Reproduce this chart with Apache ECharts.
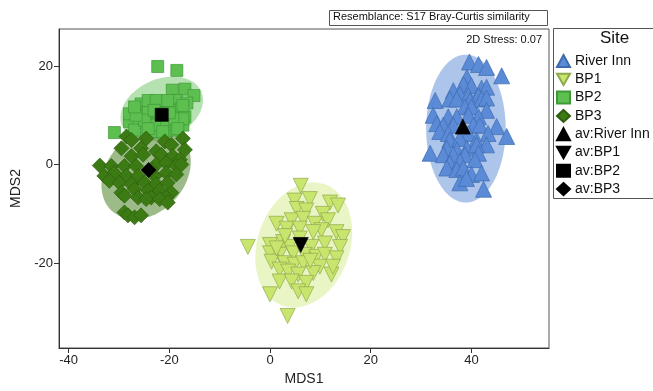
<!DOCTYPE html>
<html>
<head>
<meta charset="utf-8">
<script src="https://cdn.jsdelivr.net/npm/echarts@6/dist/echarts.min.js"></script>
<style>
html,body{margin:0;padding:0;background:#fff;}
#chart{width:653px;height:391px;}
</style>
</head>
<body>
<div id="chart"></div>
<script>
// MDS ordination, S17 Bray-Curtis similarity

const xTicks=[-40,-20,0,20,40];
const yTicks=[-20,0,20];

const riverInn=[
[39.6,20.8],[41.4,20.3],[43.0,19.7],[46.0,18.0],[39.1,17.7],[38.4,16.3],[40.0,16.0],
[42.0,15.5],[43.0,15.7],[36.4,15.0],[37.7,14.3],[39.4,14.0],[41.4,14.0],[32.8,13.0],
[35.7,13.3],[37.1,13.3],[39.7,13.0],[42.0,13.3],[43.0,13.5],[43.0,11.0],[38.7,11.7],
[40.0,11.7],[32.4,10.0],[35.4,9.7],[37.1,9.7],[41.4,9.7],[39.4,10.0],[33.1,8.3],
[34.4,8.0],[36.4,8.0],[40.4,8.0],[41.7,8.0],[45.0,7.7],[33.7,6.7],[35.4,6.3],
[39.4,6.3],[43.3,6.3],[47.0,5.7],[35.7,5.0],[37.7,5.3],[41.0,5.0],[43.0,4.0],
[35.1,3.3],[37.1,3.0],[39.1,3.3],[41.0,4.0],[31.8,2.3],[34.4,2.0],[36.4,2.0],
[38.7,2.0],[41.4,2.3],[40.7,1.0],[35.7,0.3],[37.7,0.7],[35.1,-0.7],[37.1,-1.0],
[38.4,-0.7],[40.0,-2.0],[42.0,-1.7],[37.7,-3.7],[42.4,-5.0],[39.0,-2.8]
];

const bp1=[
[6.1,-4.3],[4.9,-7.3],[7.9,-7.0],[11.9,-7.7],[13.5,-8.3],[5.3,-9.0],[7.2,-9.3],
[10.5,-10.0],[1.3,-12.0],[4.3,-11.3],[6.6,-11.0],[8.9,-12.0],[11.5,-11.3],[3.3,-13.0],
[5.9,-13.0],[10.2,-13.3],[13.2,-13.7],[14.5,-14.7],[-4.4,-16.7],[0.0,-16.3],[2.6,-15.7],
[3.9,-16.7],[8.2,-16.7],[10.9,-16.0],[13.9,-16.7],[0.0,-18.0],[1.9,-18.3],[4.6,-18.0],
[6.9,-18.3],[9.2,-18.7],[10.9,-18.3],[13.2,-19.0],[0.3,-19.7],[2.9,-20.0],[4.9,-20.3],
[6.6,-20.0],[9.9,-20.7],[12.2,-22.3],[1.9,-21.3],[3.6,-21.7],[5.6,-22.3],[8.6,-22.0],
[1.9,-23.7],[4.3,-23.7],[7.2,-24.0],[5.6,-25.7],[7.2,-26.3],[0.0,-26.3],[3.5,-30.7],
[8.6,-13.7],[5.9,-15.0],[1.3,-17.0],[12.5,-20.7],[8.0,-19.5],[3.0,-14.5]
];

const bp2=[
[-22.3,19.9],[-18.5,19.1],[-19.4,15.1],[-16.9,15.3],[-15.1,14.0],[-25.6,12.3],
[-23.4,12.5],[-20.9,12.7],[-18.6,13.0],[-16.5,12.5],[-26.0,10.3],[-24.2,10.7],
[-19.6,11.0],[-17.6,11.3],[-16.9,9.7],[-27.9,8.7],[-26.0,8.7],[-24.9,8.3],
[-22.7,8.2],[-21.1,8.0],[-18.9,9.0],[-17.3,8.0],[-26.9,7.0],[-30.9,6.5],
[-22.6,6.7],[-20.6,6.9],[-18.6,7.0],[-27.9,10.3],[-24.2,13.0],[-22.6,13.0],
[-20.3,13.0],[-17.3,12.0],[-17.3,9.3],[-19.3,9.3],[-21.3,8.0],[-22.9,8.0],
[-24.9,9.0],[-26.6,10.0],[-26.9,11.7],[-21.3,6.7],[-18.3,7.3],[-24.2,7.3],
[-20.0,10.5],[-23.0,11.0]
];

const bp3=[
[-28.5,5.7],[-24.6,5.3],[-20.9,4.7],[-17.3,5.3],[-29.5,3.3],[-25.6,3.3],[-22.6,2.7],
[-19.6,4.0],[-16.9,3.0],[-27.5,1.7],[-25.2,2.0],[-21.6,2.0],[-19.3,1.7],[-17.9,1.0],
[-33.8,-0.2],[-31.5,-0.3],[-28.9,-0.3],[-26.6,-0.3],[-22.6,0.0],[-20.6,0.3],[-18.6,-0.3],
[-32.9,-2.3],[-30.9,-1.7],[-28.5,-2.3],[-26.2,-2.3],[-22.9,-2.3],[-20.6,-1.7],[-18.6,-2.0],
[-31.9,-3.3],[-29.9,-3.7],[-27.5,-4.0],[-24.9,-3.7],[-22.6,-4.0],[-20.3,-3.7],[-29.5,-5.7],
[-26.9,-5.0],[-24.2,-5.3],[-21.9,-5.3],[-19.6,-5.7],[-28.9,-6.3],[-26.2,-6.7],[-23.6,-6.7],
[-20.6,-6.7],[-24.6,-7.0],[-21.9,-7.0],[-20.3,-7.7],[-28.9,-9.7],[-28.2,-10.3],[-26.9,-10.7],
[-25.6,-10.3],[-17.6,0.0],[-23.6,-1.0],[-27.5,5.0]
];

// group averages
const avRiverInn=[[38.3,7.7]];
const avBp1=[[6.1,-16.3]];
const avBp2=[[-21.5,10.1]];
const avBp3=[[-24.1,-1.1]];

// ellipses: [centre x, centre y, semi-axis along angle, other semi-axis, angle deg]
const ellipseParams=[
[38.9,7.3,7.9,15.0,0],
[6.7,-16.3,13.0,9.2,72],
[-21.5,11.3,8.6,6.0,25],
[-24.6,-1.8,10.2,7.8,50]
];
const ellipseFills=[
"rgba(91,139,214,0.5)",
"rgba(200,230,110,0.4)",
"rgba(90,190,80,0.45)",
"rgba(60,120,20,0.5)"
];

const downTri="path://M0,0L10,0L5,8.66Z";
const font="Liberation Sans, Arial, sans-serif";

const chart=echarts.init(document.getElementById("chart"));

function ellipseItem(params,api){
    const cx=api.value(0),cy=api.value(1),a=api.value(2),b=api.value(3);
    const ang=api.value(4)*Math.PI/180;
    const pts=[];
    for(let k=0;k<90;k++){
        const t=2*Math.PI*k/90;
        const dx=a*Math.cos(t),dy=b*Math.sin(t);
        pts.push(api.coord([
            cx+dx*Math.cos(ang)-dy*Math.sin(ang),
            cy+dx*Math.sin(ang)+dy*Math.cos(ang)
        ]));
    }
    return {
        type:"polygon",
        shape:{points:pts},
        style:{fill:ellipseFills[params.dataIndex],stroke:null}
    };
}

function group(name,data,symbol,size,fill,edge){
    return {
        name:name,
        type:"scatter",
        data:data,
        symbol:symbol,
        symbolSize:size,
        itemStyle:{color:fill,borderColor:edge,borderWidth:0.7,opacity:1},
        z:3
    };
}

chart.setOption({
    animation:false,
    textStyle:{fontFamily:font},
    grid:{
        left:59,top:29,right:104,bottom:38,
        show:true,borderColor:"#555",borderWidth:1,backgroundColor:"#fff"
    },
    xAxis:{
        type:"value",min:-41.9,max:55.4,
        name:"MDS1",nameLocation:"middle",nameGap:24,
        nameTextStyle:{fontSize:14,color:"#222",fontFamily:font},
        axisLine:{show:true,onZero:false,lineStyle:{color:"#333"}},
        axisTick:{show:true,length:5,customValues:xTicks,lineStyle:{color:"#333"}},
        axisLabel:{customValues:xTicks,fontSize:13,color:"#222",margin:6,fontFamily:font},
        splitLine:{show:false}
    },
    yAxis:{
        type:"value",min:-37.2,max:27.5,
        name:"MDS2",nameLocation:"middle",nameGap:36,
        nameTextStyle:{fontSize:14,color:"#222",fontFamily:font},
        axisLine:{show:true,onZero:false,lineStyle:{color:"#333"}},
        axisTick:{show:true,length:5,customValues:yTicks,lineStyle:{color:"#333"}},
        axisLabel:{customValues:yTicks,fontSize:13,color:"#222",margin:6,fontFamily:font},
        splitLine:{show:false}
    },
    legend:{
        orient:"vertical",left:556,top:54,padding:0,
        itemWidth:13,itemHeight:12,itemGap:4.3,
        textStyle:{fontSize:14,lineHeight:14,color:"#111",fontFamily:font},
        data:["River Inn","BP1","BP2","BP3","av:River Inn","av:BP1","av:BP2","av:BP3"]
    },
    graphic:[
        {type:"rect",left:329,top:10,z:10,
         shape:{width:218,height:15},style:{fill:"#fff",stroke:"#555",lineWidth:1}},
        {type:"text",left:333,top:11,z:11,
         style:{text:"Resemblance: S17 Bray-Curtis similarity",font:"11px "+font,fill:"#111"}},
        {type:"text",right:111,top:34,z:11,
         style:{text:"2D Stress: 0.07",font:"11px "+font,fill:"#111"}},
        {type:"rect",left:553,top:28,z:1,
         shape:{width:104,height:170},style:{fill:"#fff",stroke:"#555",lineWidth:1}},
        {type:"text",left:600,top:30,z:11,
         style:{text:"Site",font:"17px "+font,fill:"#111",align:"center"}}
    ],
    series:[
        {
            type:"custom",
            renderItem:ellipseItem,
            data:ellipseParams,
            encode:{x:0,y:1},
            silent:true,
            z:1,
            clip:true
        },
        group("River Inn",riverInn,"triangle",16,"#5b8bd6","#3d6bb0"),
        group("BP1",bp1,downTri,15,"#c8e66e","#8fa84a"),
        group("BP2",bp2,"rect",12,"#5cbf50","#3f9a36"),
        group("BP3",bp3,"diamond",15,"#3c7a14","#2d5e0e"),
        group("av:River Inn",avRiverInn,"triangle",15,"#000","#000"),
        group("av:BP1",avBp1,downTri,15,"#000","#000"),
        group("av:BP2",avBp2,"rect",13,"#000","#000"),
        group("av:BP3",avBp3,"diamond",15,"#000","#000")
    ]
});

window.addEventListener("resize",()=>chart.resize());
</script>
</body>
</html>
